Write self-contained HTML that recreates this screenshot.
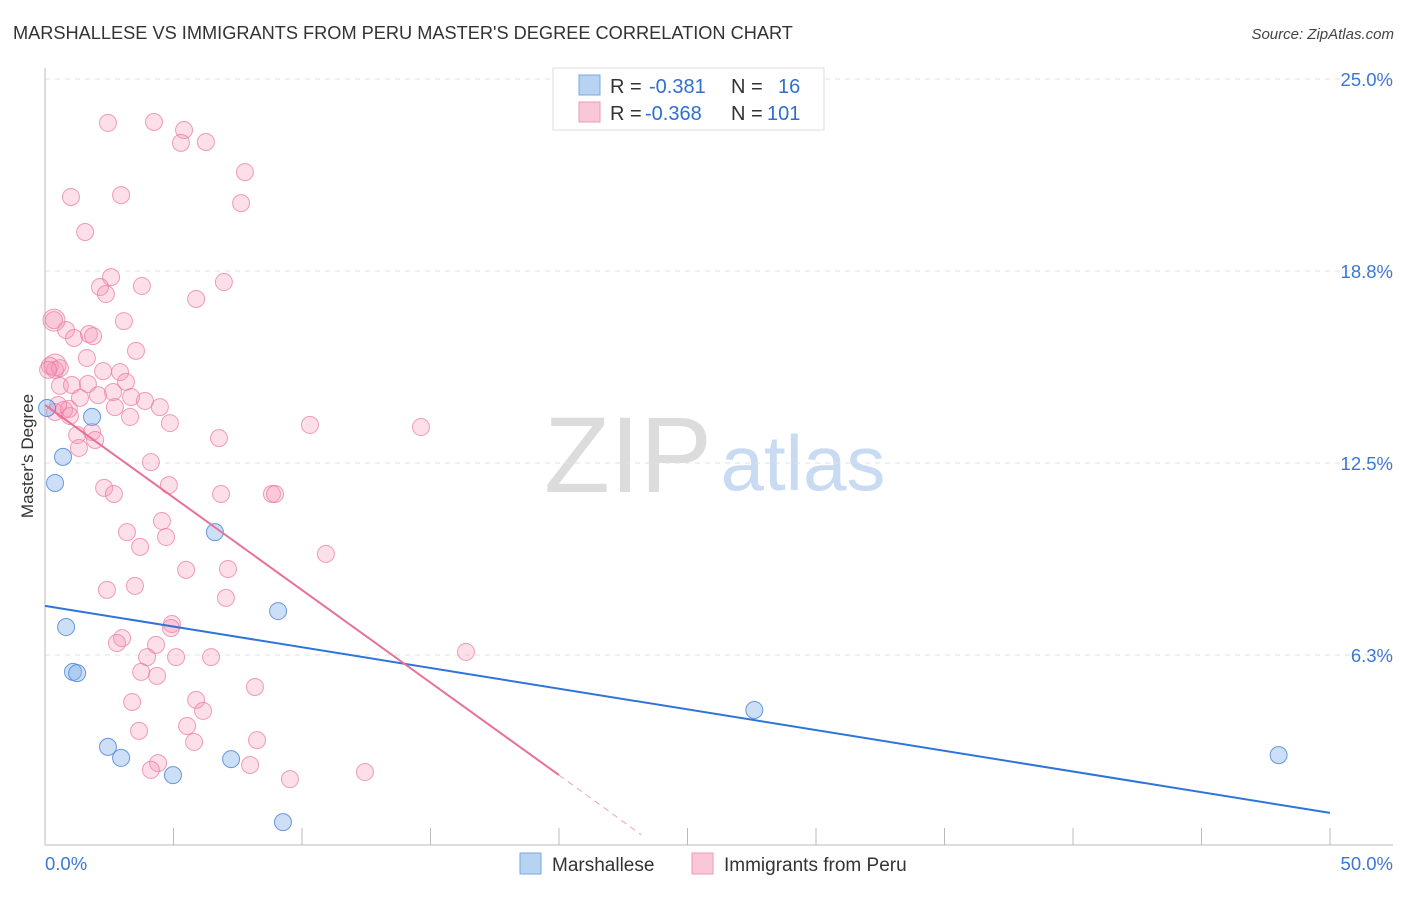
<!DOCTYPE html>
<html><head><meta charset="utf-8"><style>
body{margin:0;background:#fff;font-family:"Liberation Sans",sans-serif}
svg text{font-family:"Liberation Sans",sans-serif}
</style></head><body>
<svg id="chart" width="1406" height="892" xmlns="http://www.w3.org/2000/svg">
<text x="13" y="39" font-size="18.2" fill="#333">MARSHALLESE VS IMMIGRANTS FROM PERU MASTER'S DEGREE CORRELATION CHART</text>
<text x="1394" y="39" font-size="15" fill="#444" text-anchor="end" font-style="italic">Source: ZipAtlas.com</text>
<g>
<text x="628" y="492" font-size="108" fill="#dcdcdc" text-anchor="middle" font-family="Liberation Serif, serif">ZIP</text>
<text x="803" y="490" font-size="78" fill="#c9dbf2" text-anchor="middle">atlas</text>
</g>
<g id="grid"></g>
<g id="axes"></g>
<g id="pinkpts"></g>
<g id="bluepts"></g>
<g id="lines"></g>
<text transform="translate(33,456) rotate(-90)" font-size="17" fill="#333" text-anchor="middle">Master's Degree</text>
<g>
<rect x="553" y="68" width="271" height="62" fill="#fff" stroke="#ddd"/>
<rect x="579" y="75" width="21" height="20" fill="#b8d2f2" stroke="#7aa8e0"/>
<rect x="579" y="102" width="21" height="20" fill="#f9c8d8" stroke="#ee9ab6"/>
<text x="610" y="93" font-size="20" fill="#333">R = </text><text x="649" y="93" font-size="20" fill="#2f6fd0">-0.381</text>
<text x="731" y="93" font-size="20" fill="#333">N = </text><text x="778" y="93" font-size="20" fill="#2f6fd0">16</text>
<text x="610" y="120" font-size="20" fill="#333">R = </text><text x="645" y="120" font-size="20" fill="#2f6fd0">-0.368</text>
<text x="731" y="120" font-size="20" fill="#333">N = </text><text x="767" y="120" font-size="20" fill="#2f6fd0">101</text>
</g>
<g>
<rect x="520" y="853" width="21" height="21" fill="#b8d2f2" stroke="#7aa8e0"/>
<text x="552" y="871" font-size="19" fill="#333">Marshallese</text>
<rect x="692" y="853" width="21" height="21" fill="#f9c8d8" stroke="#ee9ab6"/>
<text x="724" y="871" font-size="19" fill="#333">Immigrants from Peru</text>
</g>
</svg>
<script>
const yTicks=[6.25,12.5,18.75,25];
const yTickLabels=["6.3%","12.5%","18.8%","25.0%"];
const xTicks=[0,5,10,15,20,25,30,35,40,45,50];
const xEndLabels=["0.0%","50.0%"];
const blueX=[0.08,0.39,0.70,1.83,0.82,1.09,1.25,2.45,2.96,4.98,7.24,6.61,9.07,9.26,27.6,48.0];
const blueY=[14.29,11.85,12.70,14.0,7.16,5.70,5.66,3.26,2.90,2.34,2.86,10.25,7.68,0.81,4.46,2.99];
const pinkX=[2.45,4.24,5.41,5.29,6.26,7.78,7.63,1.01,2.96,1.56,2.57,2.14,2.37,3.77,6.96,5.88,0.35,3.07,0.82,1.13,1.71,1.87,3.54,1.63,0.19,0.39,0.58,2.26,2.92,3.15,0.58,1.05,1.67,1.36,2.06,2.65,3.35,3.89,4.47,0.39,0.74,0.97,2.72,3.31,4.86,1.83,1.25,1.95,1.32,6.77,10.31,14.63,4.12,4.82,2.30,2.68,6.85,8.83,8.95,3.19,4.55,4.71,3.70,10.93,5.49,7.12,3.50,2.41,7.04,4.94,4.90,3.00,2.80,4.32,3.97,5.10,6.46,16.38,3.74,4.36,8.17,5.88,3.39,6.15,5.53,3.66,5.80,8.25,4.40,4.12,7.98,9.53,12.45,0.39,0.35,0.12,0.93,0.51];
const pinkY=[23.57,23.60,23.34,22.92,22.95,21.97,20.96,21.16,21.22,20.02,18.55,18.23,18.00,18.26,18.39,17.84,17.15,17.12,16.83,16.57,16.70,16.63,16.15,15.92,15.66,15.53,15.59,15.49,15.46,15.14,15.01,15.04,15.07,14.62,14.71,14.81,14.65,14.52,14.32,14.16,14.23,14.03,14.32,14.00,13.80,13.51,13.41,13.25,12.99,13.31,13.74,13.67,12.53,11.78,11.69,11.49,11.49,11.49,11.49,10.25,10.61,10.09,9.77,9.54,9.02,9.05,8.50,8.37,8.11,7.26,7.13,6.80,6.64,6.58,6.18,6.18,6.18,6.35,5.70,5.57,5.21,4.79,4.72,4.43,3.94,3.78,3.42,3.48,2.73,2.51,2.67,2.21,2.44,15.69,17.15,15.53,14.26,14.39];
const pinkBig=[93,94];
const blueTrend=[[0,7.85],[50,1.11]];
const pinkTrend=[[0,14.39],[20,2.34],[23.2,0.4]];
const NS="http://www.w3.org/2000/svg";
const sx=v=>45+v*25.7, sy=v=>847-v*30.72;
function mk(parent,tag,attrs){const e=document.createElementNS(NS,tag);for(const k in attrs)e.setAttribute(k,attrs[k]);document.getElementById(parent).appendChild(e);return e;}
yTicks.forEach((t,i)=>{
 const g=mk('grid','line',{x1:45,x2:1393,y1:sy(t),y2:sy(t),stroke:'#e2e2e2','stroke-dasharray':'5,5'});
 
 
 const l=mk('axes','text',{x:1393,y:sy(t)+7,'font-size':18.5,fill:'#3a78d4','text-anchor':'end'});
 l.textContent=yTickLabels[i];
 
 
});
const al=mk('axes','line',{x1:45,x2:45,y1:68,y2:845,stroke:'#bbb'});


const bl=mk('axes','line',{x1:45,x2:1393,y1:845,y2:845,stroke:'#bbb'});


xTicks.forEach(t=>{
 const k=mk('axes','line',{x1:sx(t),x2:sx(t),y1:828,y2:845,stroke:'#bbb'});
 
 
});
const x0=mk('axes','text',{x:45,y:870,'font-size':18.5,fill:'#3a78d4'});x0.textContent=xEndLabels[0];


const x1=mk('axes','text',{x:1393,y:870,'font-size':18.5,fill:'#3a78d4','text-anchor':'end'});x1.textContent=xEndLabels[1];


pinkX.forEach((x,i)=>{
 const c=mk('pinkpts','circle',{cx:sx(x),cy:sy(pinkY[i]),r:pinkBig.includes(i)?11:8.5,fill:'rgba(244,150,182,0.3)',stroke:'rgba(232,120,158,0.7)','stroke-width':1});
 
 
});
blueX.forEach((x,i)=>{
 const c=mk('bluepts','circle',{cx:sx(x),cy:sy(blueY[i]),r:8.5,fill:'rgba(130,175,235,0.4)',stroke:'rgba(70,130,215,0.8)','stroke-width':1});
 
 
});
const b=mk('lines','line',{x1:sx(blueTrend[0][0]),y1:sy(blueTrend[0][1]),x2:sx(blueTrend[1][0]),y2:sy(blueTrend[1][1]),stroke:'#2f74d8','stroke-width':2});


const p=mk('lines','line',{x1:sx(pinkTrend[0][0]),y1:sy(pinkTrend[0][1]),x2:sx(pinkTrend[1][0]),y2:sy(pinkTrend[1][1]),stroke:'#e8709a','stroke-width':2});


const pd=mk('lines','line',{x1:sx(pinkTrend[1][0]),y1:sy(pinkTrend[1][1]),x2:sx(pinkTrend[2][0]),y2:sy(pinkTrend[2][1]),stroke:'#eea0bb','stroke-width':1,'stroke-dasharray':'6,5'});


</script>
</body></html>
